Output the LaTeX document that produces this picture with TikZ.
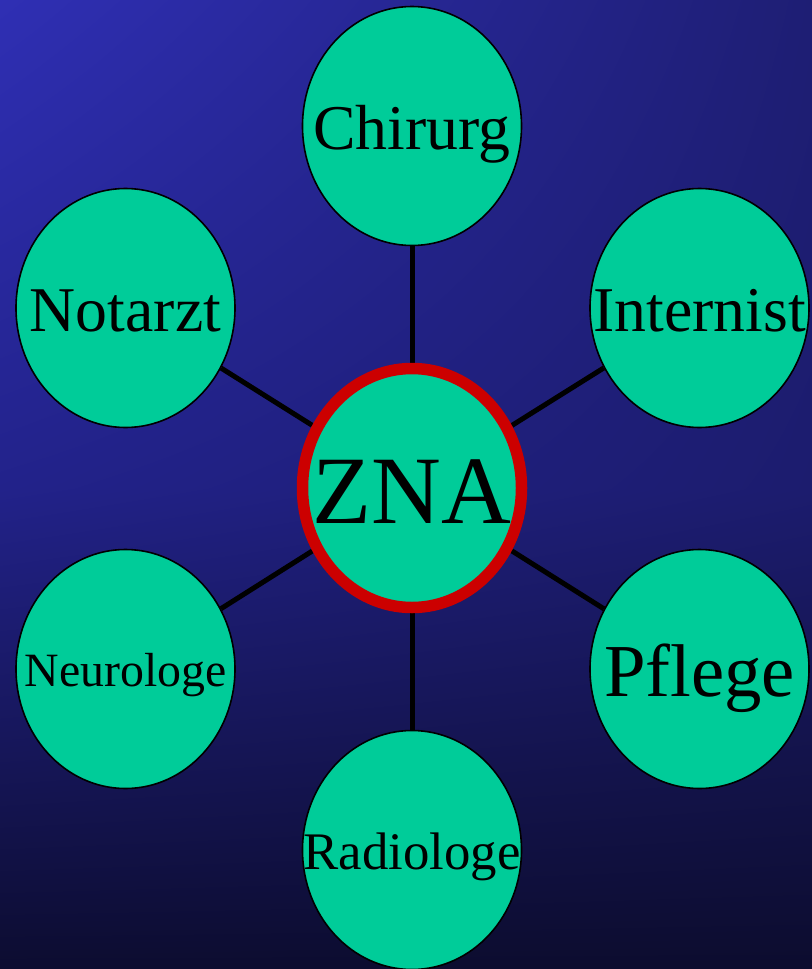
\documentclass[tikz,border=0pt]{standalone}
\usepackage{fontspec}
\setmainfont{Liberation Serif}
\usetikzlibrary{shapes.geometric, backgrounds, shadings}

\definecolor{bgtl}{RGB}{47,47,180}
\definecolor{bgtr}{RGB}{30,30,116}
\definecolor{bgml}{RGB}{34,34,138}
\definecolor{bgmr}{RGB}{28,28,110}
\definecolor{bgbl}{RGB}{12,12,48}
\definecolor{bgbr}{RGB}{12,12,46}
\definecolor{mint}{RGB}{0,204,153}
\definecolor{znared}{RGB}{204,0,0}

% Text ohne Breite, Grundlinie ca. 0.37em unter der Mitte
\newcommand{\ztext}[2]{\fontsize{#1}{#1}\selectfont
  \makebox[0pt]{\rule[-0.1em]{0pt}{0.94em}\smash{#2}}}

\begin{document}
\begin{tikzpicture}[x=1bp, y=-1bp,
  staff/.style={ellipse, draw=black, line width=1.6bp, fill=mint,
    minimum width=219bp, minimum height=239bp, inner sep=0pt},
  hub/.style={staff, draw=znared, line width=11.5bp},
  link/.style={line width=5bp, black}]
  \useasboundingbox (0,0) rectangle (812,969);
  % Mitte
  \node[hub] (zna) at (412,488) {\ztext{97}{ZNA}};
  % Ring aussen
  \node[staff] (chirurg) at (412,126) {\ztext{64}{Chirurg}};
  \node[staff] (notarzt) at (125.5,308) {\ztext{64}{Notarzt}};
  \node[staff] (internist) at (699.5,308) {\ztext{64}{Internist}};
  \node[staff] (neurologe) at (125.5,669) {\ztext{48}{Neurologe}};
  \node[staff] (pflege) at (699.5,669) {\ztext{75}{Pflege}};
  \node[staff] (radiologe) at (412,850) {\ztext{53}{Radiologe}};
  \begin{scope}[on background layer]
    \shade[upper left=bgtl, upper right=bgtr, lower left=bgml, lower right=bgmr]
      (0,0) rectangle (812,490);
    \shade[upper left=bgml, upper right=bgmr, lower left=bgbl, lower right=bgbr]
      (0,489) rectangle (812,969);
    \foreach \n in {chirurg, notarzt, internist, neurologe, pflege, radiologe}
      \draw[link] (zna) -- (\n);
  \end{scope}
\end{tikzpicture}
\end{document}
